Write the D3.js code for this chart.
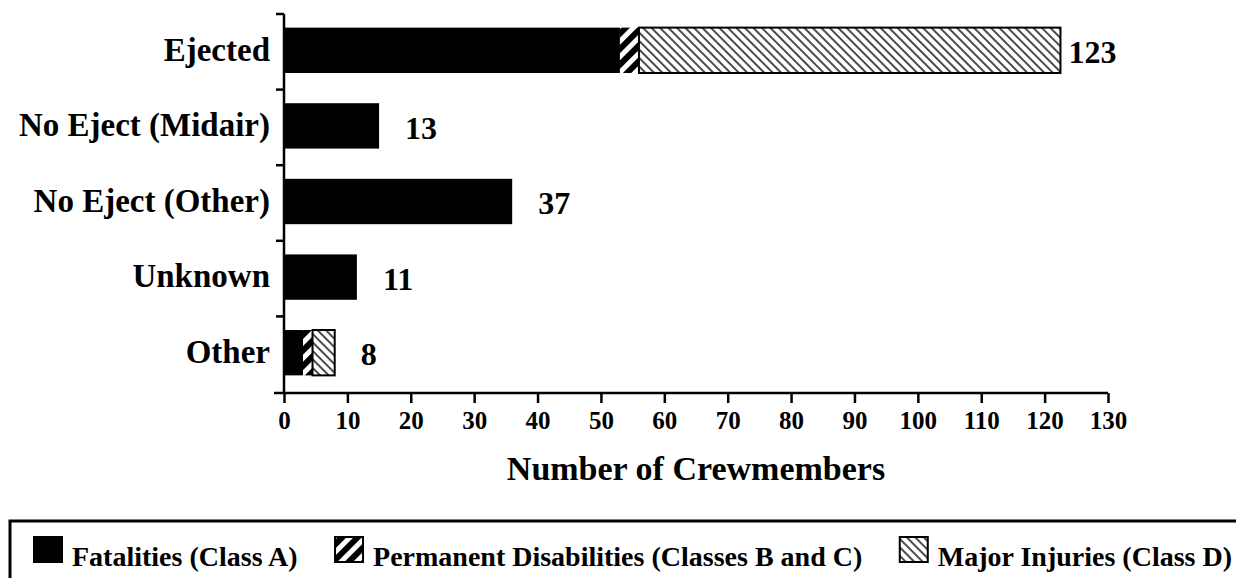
<!DOCTYPE html>
<html>
<head>
<meta charset="utf-8">
<script src="https://cdn.jsdelivr.net/npm/d3@7"></script>
<style>
  body { margin: 0; background: #fff; }
  text { font-family: "Liberation Serif", "Times New Roman", serif; font-weight: bold; fill: #000; }
</style>
</head>
<body>
<script>
// values
const categories = ["Ejected", "No Eject (Midair)", "No Eject (Other)", "Unknown", "Other"];
const fatalities = [53, 15, 36, 11.5, 3];
const permanent = [3, 0, 0, 0, 1.5];
const major = [66.5, 0, 0, 0, 3.5];
const totalLabels = ["123", "13", "37", "11", "8"];
const xTicks = [0, 10, 20, 30, 40, 50, 60, 70, 80, 90, 100, 110, 120, 130];
const seriesNames = ["Fatalities (Class A)", "Permanent Disabilities (Classes B and C)", "Major Injuries (Class D)"];

const width = 1236;
const height = 578;
const plotLeft = 284;
const plotRight = 1108;
const plotTop = 14;
const axisY = 393;

const svg = d3.select("body")
  .append("svg")
  .attr("width", width)
  .attr("height", height);

const defs = svg.append("defs");

const diag = defs.append("pattern")
  .attr("id", "perm")
  .attr("patternUnits", "userSpaceOnUse")
  .attr("width", 11)
  .attr("height", 11)
  .attr("patternTransform", "rotate(45)");
diag.append("rect").attr("width", 11).attr("height", 11).attr("fill", "#000");
diag.append("rect").attr("x", 3).attr("width", 5).attr("height", 11).attr("fill", "#fff");

const hatch = defs.append("pattern")
  .attr("id", "major")
  .attr("patternUnits", "userSpaceOnUse")
  .attr("width", 6)
  .attr("height", 6)
  .attr("patternTransform", "rotate(-45)");
hatch.append("rect").attr("width", 6).attr("height", 6).attr("fill", "#fff");
hatch.append("line").attr("x1", 3).attr("x2", 3).attr("y1", 0).attr("y2", 6)
  .attr("stroke", "#000").attr("stroke-width", 1.4);

const fills = ["#000", "url(#perm)", "url(#major)"];

const xScale = d3.scaleLinear()
  .domain([0, 130])
  .range([plotLeft, plotRight]);

const yScale = d3.scaleBand()
  .domain(categories)
  .range([plotTop, axisY - 1])
  .paddingInner(0.4)
  .paddingOuter(0.2);

const rows = categories.map((c, i) => ({
  cat: c,
  label: totalLabels[i],
  parts: [fatalities[i], permanent[i], major[i]]
}));

const stacks = rows.map(r => {
  let start = 0;
  return r.parts.map((v, k) => {
    const seg = { cat: r.cat, k: k, x0: start, x1: start + v };
    start += v;
    return seg;
  }).filter(s => s.x1 > s.x0);
});

const segs = stacks.flat();

svg.selectAll("rect.seg")
  .data(segs)
  .enter()
  .append("rect")
  .attr("class", "seg")
  .attr("x", d => xScale(d.x0))
  .attr("y", d => yScale(d.cat) - 1.5)
  .attr("width", d => xScale(d.x1) - xScale(d.x0))
  .attr("height", yScale.bandwidth())
  .attr("fill", d => fills[d.k])
  .attr("stroke", "#000")
  .attr("stroke-width", d => d.k === 2 ? 2 : 0);

// value labels at the end of each bar
svg.selectAll("text.total")
  .data(rows)
  .enter()
  .append("text")
  .attr("class", "total")
  .attr("x", d => xScale(d3.sum(d.parts)) + (d.cat === "Ejected" ? 8 : 26))
  .attr("y", d => yScale(d.cat) + yScale.bandwidth() / 2)
  .attr("dy", "0.35em")
  .attr("font-size", 32)
  .text(d => d.label);

// category labels
svg.selectAll("text.cat")
  .data(categories)
  .enter()
  .append("text")
  .attr("class", "cat")
  .attr("x", 270)
  .attr("y", d => yScale(d) + yScale.bandwidth() / 2 - 2)
  .attr("dy", "0.33em")
  .attr("text-anchor", "end")
  .attr("font-size", 33)
  .text(d => d);

// y axis with ticks between categories
const gap = yScale.step() * yScale.paddingInner() / 2;
svg.append("line")
  .attr("x1", plotLeft).attr("x2", plotLeft)
  .attr("y1", plotTop).attr("y2", axisY)
  .attr("stroke", "#000").attr("stroke-width", 2.5);

svg.selectAll("line.ytick")
  .data(categories)
  .enter()
  .append("line")
  .attr("class", "ytick")
  .attr("x1", plotLeft - 8).attr("x2", plotLeft)
  .attr("y1", d => yScale(d) - gap)
  .attr("y2", d => yScale(d) - gap)
  .attr("stroke", "#000").attr("stroke-width", 2.5);

// x axis
const xAxis = d3.axisBottom(xScale)
  .tickValues(xTicks)
  .tickSize(10)
  .tickPadding(8)
  .tickSizeOuter(0);

const gx = svg.append("g")
  .attr("id", "x-axis")
  .attr("transform", "translate(0," + axisY + ")")
  .call(xAxis);

gx.select(".domain").attr("stroke-width", 2.5).attr("d", "M" + (plotLeft - 10) + ",0H" + plotRight);
gx.selectAll(".tick line").attr("stroke-width", 2.5);
gx.selectAll(".tick text")
  .attr("font-size", 25);

svg.append("text")
  .attr("x", (plotLeft + plotRight) / 2)
  .attr("y", 480)
  .attr("text-anchor", "middle")
  .attr("font-size", 34)
  .text("Number of Crewmembers");

// legend
svg.append("rect")
  .attr("x", 10)
  .attr("y", 521)
  .attr("width", 1300)
  .attr("height", 90)
  .attr("fill", "none")
  .attr("stroke", "#000")
  .attr("stroke-width", 3);

const box = 28;
const legend = svg.selectAll("g.legend")
  .data(seriesNames)
  .enter()
  .append("g")
  .attr("class", "legend");

legend.append("rect")
  .attr("y", 537)
  .attr("width", box)
  .attr("height", 25)
  .attr("fill", (d, i) => fills[i])
  .attr("stroke", "#000")
  .attr("stroke-width", 2);

const labels = legend.append("text")
  .attr("y", 566)
  .attr("font-size", 28)
  .text(d => d);

// spread the three entries across the box, last one ending near the right edge
const widths = labels.nodes().map(n => n.getComputedTextLength());
const used = d3.sum(widths) + seriesNames.length * (box + 10);
const spacing = (1232 - 34 - used) / (seriesNames.length - 1);
let cursor = 34;
legend.each(function (d, i) {
  d3.select(this).attr("transform", "translate(" + cursor + ",0)");
  d3.select(this).select("text").attr("x", box + 10);
  cursor += box + 10 + widths[i] + spacing;
});
</script>
</body>
</html>
